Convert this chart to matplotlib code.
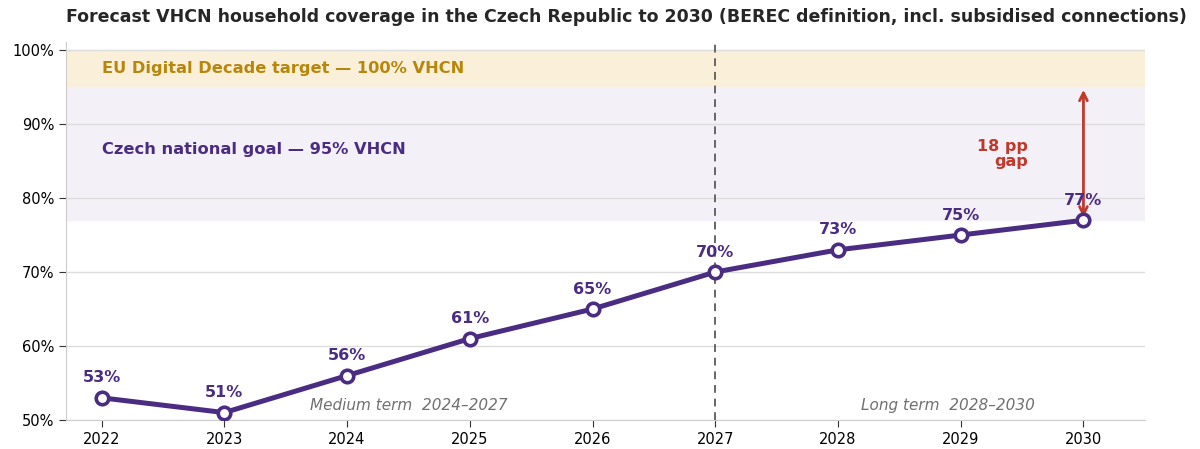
import matplotlib
matplotlib.use("Agg")
import matplotlib.pyplot as plt
from matplotlib.ticker import FuncFormatter

years = [2022, 2023, 2024, 2025, 2026, 2027, 2028, 2029, 2030]
coverage = [53, 51, 56, 61, 65, 70, 73, 75, 77]
eu_target = 100
national_goal = 95
gap = national_goal - coverage[-1]

purple = "#4B2C83"
gold = "#B8860B"
red = "#C0392B"

fig = plt.figure(figsize=(12, 4.49), dpi=100)
ax = fig.add_axes([0.055, 0.0646, 0.899, 0.842])

ax.axhspan(national_goal, eu_target, color="#FAEFD9", zorder=0)
ax.axhspan(coverage[-1], national_goal, color="#F3F0F7", zorder=0)

ax.set_ylim(50, 101.1)
ax.set_xlim(2021.71, 2030.5)
ax.set_yticks([50, 60, 70, 80, 90, 100])
ax.yaxis.set_major_formatter(FuncFormatter(lambda v, p: f"{v:.0f}%"))
ax.set_xticks(years)
ax.grid(axis="y", color="#DDDDDD", linewidth=1, zorder=0.5)
ax.set_axisbelow(True)
for s in ["top", "right"]:
    ax.spines[s].set_visible(False)
for s in ["left", "bottom"]:
    ax.spines[s].set_color("#CCCCCC")
ax.tick_params(labelsize=10.5, length=5, color="#333333")

ax.axvline(2027, color="#666666", linestyle=(0, (4, 3)), linewidth=1.4, zorder=1)

ax.plot(years, coverage, color=purple, linewidth=3.6, marker="o", markersize=9,
        markerfacecolor="white", markeredgecolor=purple, markeredgewidth=2.6, zorder=3)
for x, y in zip(years, coverage):
    ax.annotate(f"{y}%", (x, y), xytext=(0, 9), textcoords="offset points",
                ha="center", va="bottom", color=purple, fontsize=11.5, fontweight="bold", zorder=4)

ax.text(2022.0, 97.5, "EU Digital Decade target \u2014 100% VHCN", color=gold,
        fontsize=11.7, fontweight="bold", va="center", ha="left")
ax.text(2022.0, 86.6, "Czech national goal \u2014 95% VHCN", color=purple,
        fontsize=11.7, fontweight="bold", va="center", ha="left")

ax.annotate("", xy=(2030, national_goal), xytext=(2030, coverage[-1]),
            arrowprops=dict(arrowstyle="<->", color=red, lw=2, mutation_scale=14), zorder=2)
ax.text(2029.55, 86, f"{gap} pp\ngap", color=red, fontsize=11.5, fontweight="bold",
        ha="right", va="center", linespacing=1.0)

ax.text(2024.5, 52, "Medium term  2024\u20132027", color="#707070", style="italic",
        fontsize=11, ha="center", va="center")
ax.text(2028.9, 52, "Long term  2028\u20132030", color="#707070", style="italic",
        fontsize=11, ha="center", va="center")

ax.set_title("Forecast VHCN household coverage in the Czech Republic to 2030 (BEREC definition, incl. subsidised connections)",
             loc="left", fontsize=12.55, fontweight="bold", color="#262626", pad=14)

fig.savefig("out.png", dpi=100)
